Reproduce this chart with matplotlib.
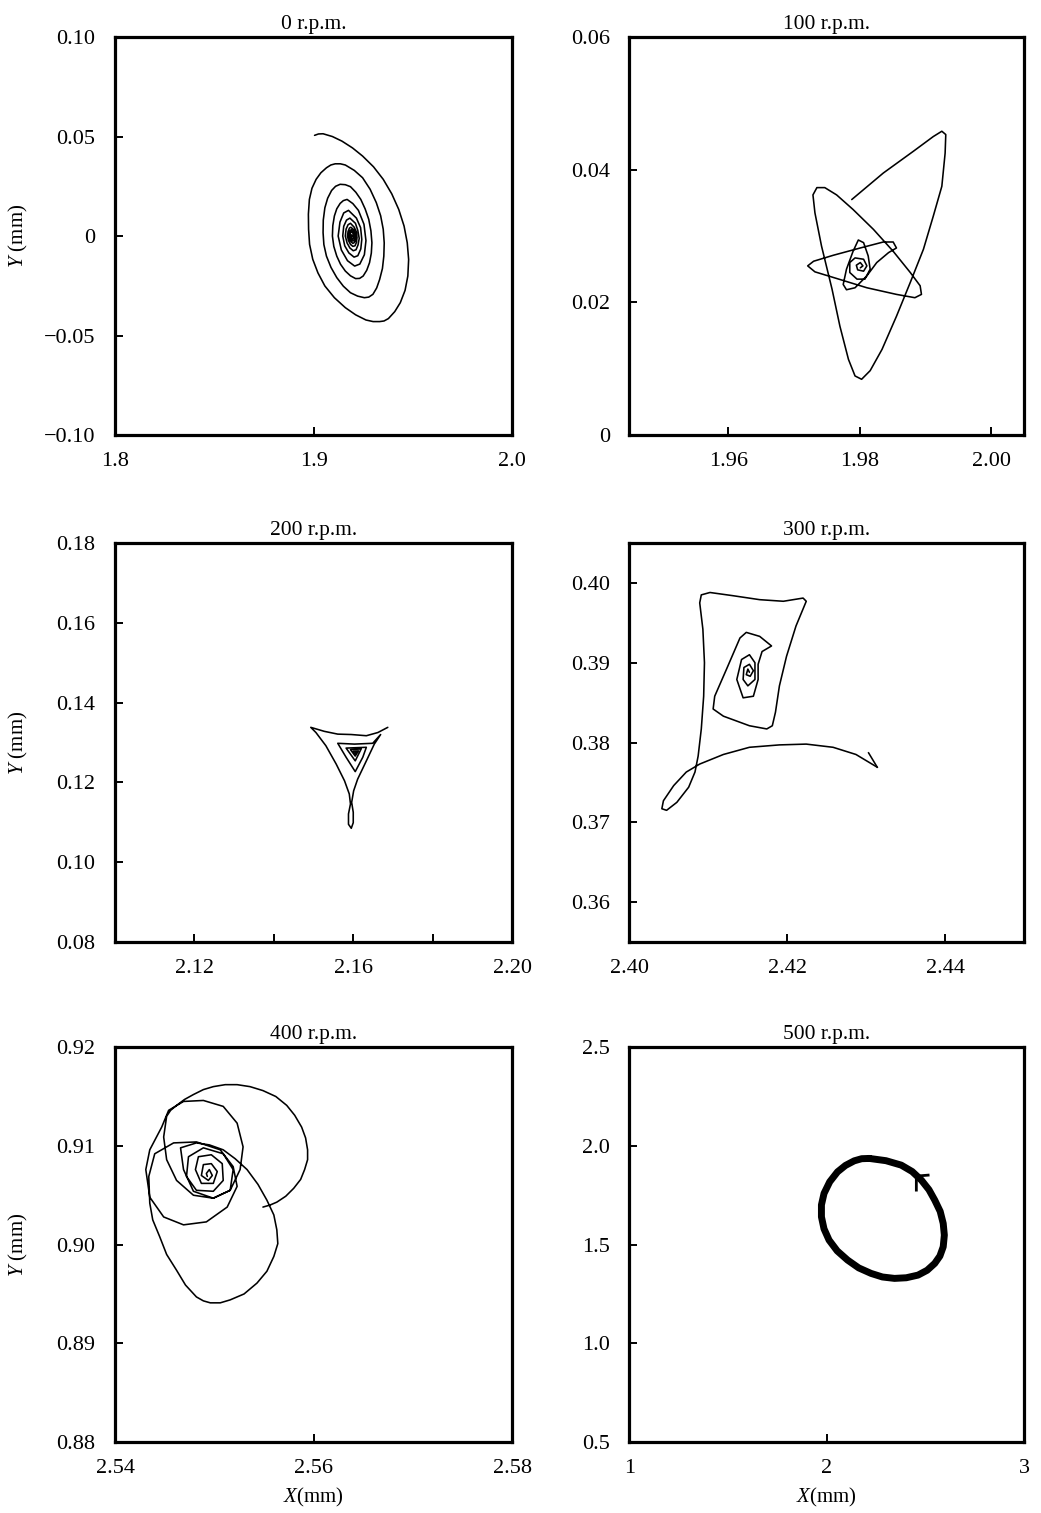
import matplotlib
matplotlib.use("Agg")
import matplotlib.pyplot as plt

plt.rcParams["font.family"] = ["Liberation Serif", "DejaVu Serif"]
plt.rcParams["mathtext.fontset"] = "custom"
plt.rcParams["mathtext.rm"] = "Liberation Serif"
plt.rcParams["mathtext.it"] = "Liberation Serif:italic"

# ---- 0 r.p.m. : decaying elliptical spiral ----
rpm0_x = [1.9005, 1.9025, 1.9048, 1.9095, 1.9143, 1.9196, 1.9247, 1.9302, 1.9351, 1.9394, 1.9429,
          1.9456, 1.9472, 1.9479, 1.9475, 1.9461, 1.9437, 1.9409, 1.9377, 1.9355, 1.9333, 1.9300,
          1.9264, 1.9212, 1.9160, 1.9105, 1.9057, 1.9022, 1.8996, 1.8980, 1.8975, 1.8974, 1.8979,
          1.8992, 1.9013, 1.9037, 1.9065, 1.9087, 1.9109, 1.9135, 1.9160,
          1.9205, 1.9247, 1.9285, 1.9316, 1.9338, 1.9351, 1.9356, 1.9354, 1.9347, 1.9333, 1.9318,
          1.9299, 1.9278, 1.9256, 1.9222, 1.9186, 1.9150, 1.9117, 1.9088, 1.9065, 1.9052, 1.9048,
          1.9049, 1.9057, 1.9071, 1.9091, 1.9111, 1.9134, 1.9160, 1.9186,
          1.9213, 1.9238, 1.9260, 1.9278, 1.9289, 1.9294, 1.9291, 1.9282, 1.9268, 1.9250, 1.9232,
          1.9212, 1.9186, 1.9160, 1.9136, 1.9117, 1.9102, 1.9095, 1.9097, 1.9105, 1.9117, 1.9134,
          1.9150, 1.9169, 1.9198,
          1.9226, 1.9254, 1.9264, 1.9256, 1.9233, 1.9207, 1.9171, 1.9140, 1.9124, 1.9133, 1.9152, 1.9176,
          1.9216, 1.9237, 1.9243, 1.9238, 1.9223, 1.9204, 1.9178, 1.9157, 1.9147, 1.9152, 1.9166, 1.9183,
          1.9211, 1.9223, 1.9230, 1.9224, 1.9214, 1.9200, 1.9183, 1.9169, 1.9160, 1.9164, 1.9174, 1.9186,
          1.9205, 1.9216, 1.9219, 1.9216, 1.9209, 1.9198, 1.9186, 1.9176, 1.9171, 1.9174, 1.9181, 1.9188,
          1.9202, 1.9209, 1.9212, 1.9211, 1.9204, 1.9198, 1.9190, 1.9181, 1.9178, 1.9179, 1.9185, 1.9190,
          1.9200, 1.9205, 1.9207, 1.9205, 1.9202, 1.9197, 1.9192, 1.9186, 1.9183, 1.9185, 1.9188, 1.9192,
          1.9198, 1.9201, 1.9199, 1.9195, 1.9190, 1.9190, 1.9195]
rpm0_y = [0.0506, 0.0513, 0.0514, 0.0500, 0.0477, 0.0443, 0.0402, 0.0348, 0.0285, 0.0212, 0.0134,
          0.0050, -0.0034, -0.0118, -0.0201, -0.0273, -0.0335, -0.0380, -0.0415, -0.0427, -0.0430, -0.0430,
          -0.0422, -0.0396, -0.0360, -0.0310, -0.0251, -0.0185, -0.0117, -0.0042, 0.0034, 0.0110, 0.0184,
          0.0240, 0.0285, 0.0318, 0.0343, 0.0357, 0.0363, 0.0363, 0.0357,
          0.0330, 0.0293, 0.0235, 0.0168, 0.0102, 0.0034, -0.0035, -0.0101, -0.0163, -0.0218, -0.0261,
          -0.0293, -0.0307, -0.0310, -0.0302, -0.0285, -0.0252, -0.0209, -0.0158, -0.0101, -0.0043, 0.0017,
          0.0080, 0.0142, 0.0190, 0.0229, 0.0250, 0.0260, 0.0258, 0.0248,
          0.0220, 0.0184, 0.0136, 0.0084, 0.0026, -0.0034, -0.0086, -0.0134, -0.0172, -0.0201, -0.0213,
          -0.0214, -0.0200, -0.0176, -0.0142, -0.0101, -0.0052, 0.0, 0.0052, 0.0101, 0.0137, 0.0164,
          0.0178, 0.0184, 0.0163,
          0.0129, 0.0059, -0.0023, -0.0094, -0.0141, -0.0151, -0.0124, -0.0070, 0.0, 0.0070, 0.0116, 0.0129,
          0.0090, 0.0042, -0.0017, -0.0065, -0.0099, -0.0106, -0.0085, -0.0049, 0.0, 0.0049, 0.0080, 0.0090,
          0.0064, 0.0028, -0.0012, -0.0045, -0.0069, -0.0074, -0.0060, -0.0035, 0.0, 0.0035, 0.0057, 0.0064,
          0.0044, 0.0020, -0.0008, -0.0032, -0.0049, -0.0052, -0.0042, -0.0023, 0.0, 0.0023, 0.0040, 0.0044,
          0.0032, 0.0015, -0.0005, -0.0023, -0.0034, -0.0037, -0.0030, -0.0017, 0.0, 0.0017, 0.0028, 0.0032,
          0.0022, 0.0010, -0.0003, -0.0017, -0.0023, -0.0025, -0.0022, -0.0012, 0.0, 0.0012, 0.0020, 0.0022,
          0.0015, 0.0, -0.0012, -0.0016, -0.0008, 0.0006, 0.0]

# ---- 100 r.p.m. ----
rpm100_x = [1.9788, 1.9836, 1.9882, 1.9912, 1.9925, 1.9931, 1.9930, 1.9925, 1.9912, 1.9897, 1.9877,
            1.9856, 1.9834, 1.9816, 1.9803, 1.9793, 1.9783, 1.9770, 1.9758, 1.9742, 1.9732, 1.9729,
            1.9735, 1.9747, 1.9765, 1.9790, 1.9821, 1.9851, 1.9877, 1.9892, 1.9894, 1.9884, 1.9856,
            1.9811, 1.9765, 1.9732, 1.9721, 1.9730, 1.9760, 1.9801, 1.9836, 1.9851, 1.9856,
            1.9844, 1.9826, 1.9811, 1.9793, 1.9780, 1.9775, 1.9780, 1.9790, 1.9798, 1.9806, 1.9813,
            1.9816, 1.9808, 1.9796, 1.9785, 1.9785, 1.9793, 1.9806, 1.9811, 1.9806, 1.9797, 1.9795,
            1.9801, 1.9805, 1.9801]
rpm100_y = [0.0355, 0.0395, 0.0428, 0.0450, 0.0458, 0.0453, 0.0425, 0.0375, 0.0330, 0.0280, 0.0230,
            0.0179, 0.0129, 0.0097, 0.0084, 0.0089, 0.0114, 0.0164, 0.0220, 0.0285, 0.0335, 0.0362,
            0.0373, 0.0373, 0.0362, 0.0340, 0.0310, 0.0277, 0.0245, 0.0225, 0.0212, 0.0207, 0.0212,
            0.0222, 0.0236, 0.0246, 0.0255, 0.0262, 0.0271, 0.0282, 0.0291, 0.0291, 0.0282,
            0.0275, 0.0260, 0.0240, 0.0222, 0.0219, 0.0227, 0.0250, 0.0277, 0.0294, 0.0290, 0.0270,
            0.0250, 0.0235, 0.0235, 0.0245, 0.0260, 0.0267, 0.0265, 0.0255, 0.0247, 0.0249, 0.0256,
            0.0260, 0.0255, 0.0252]

# ---- 200 r.p.m. ----
rpm200_x = [2.1687, 2.1662, 2.1633, 2.1595, 2.1561, 2.1527, 2.1493, 2.1506, 2.1531, 2.1557, 2.1578,
            2.1590, 2.1593, 2.1588, 2.1588, 2.1595, 2.1600, 2.1600, 2.1596, 2.1601, 2.1611, 2.1633,
            2.1653, 2.1669, 2.1649, 2.1603, 2.1561, 2.1582, 2.1605, 2.1624, 2.1633, 2.1582, 2.1605,
            2.1620, 2.1593, 2.1605, 2.1613, 2.1600, 2.1605, 2.1607]
rpm200_y = [0.1338, 0.1325, 0.1317, 0.1320, 0.1321, 0.1328, 0.1338, 0.1325, 0.1292, 0.1246, 0.1204,
            0.1171, 0.1146, 0.1121, 0.1095, 0.1085, 0.1099, 0.1125, 0.1150, 0.1179, 0.1208, 0.1254,
            0.1296, 0.1320, 0.1298, 0.1296, 0.1298, 0.1263, 0.1227, 0.1263, 0.1288, 0.1286, 0.1254,
            0.1284, 0.1282, 0.1266, 0.1279, 0.1278, 0.1271, 0.1277]

# ---- 300 r.p.m. ----
rpm300_x = [2.4314, 2.4287, 2.4258, 2.4224, 2.4190, 2.4152, 2.4119, 2.4089, 2.4072, 2.4056, 2.4043,
            2.4041, 2.4047, 2.4060, 2.4075, 2.4083, 2.4087, 2.4091, 2.4094, 2.4095, 2.4093, 2.4089,
            2.4091, 2.4102, 2.4131, 2.4165, 2.4195, 2.4220, 2.4224, 2.4211, 2.4199, 2.4190, 2.4185,
            2.4181, 2.4174, 2.4152, 2.4119, 2.4106, 2.4108, 2.4123, 2.4140, 2.4148, 2.4165, 2.4180,
            2.4168, 2.4163, 2.4163, 2.4157, 2.4144, 2.4136, 2.4142, 2.4152, 2.4159, 2.4159, 2.4150,
            2.4144, 2.4145, 2.4152, 2.4157, 2.4153, 2.4148, 2.4150, 2.4152]
rpm300_y = [0.3769, 0.3785, 0.3794, 0.3798, 0.3797, 0.3794, 0.3785, 0.3773, 0.3763, 0.3746, 0.3727,
            0.3717, 0.3715, 0.3725, 0.3744, 0.3763, 0.3783, 0.3817, 0.3858, 0.3900, 0.3942, 0.3975,
            0.3985, 0.3988, 0.3984, 0.3979, 0.3977, 0.3981, 0.3977, 0.3946, 0.3908, 0.3871, 0.3838,
            0.3821, 0.3817, 0.3821, 0.3833, 0.3842, 0.3858, 0.3892, 0.3931, 0.3938, 0.3933, 0.3921,
            0.3914, 0.3898, 0.3879, 0.3858, 0.3856, 0.3879, 0.3904, 0.3910, 0.3900, 0.3879, 0.3871,
            0.3879, 0.3894, 0.3898, 0.3890, 0.3883, 0.3885, 0.3892, 0.3888]
rpm300_barb_x = [2.4314, 2.4303]
rpm300_barb_y = [0.3769, 0.3787]

# ---- 400 r.p.m. ----
rpm400_x = [2.5549, 2.5556, 2.5563, 2.5572, 2.5580, 2.5587, 2.5591, 2.5594, 2.5594, 2.5592, 2.5588,
            2.5581, 2.5573, 2.5562, 2.5549, 2.5536, 2.5523, 2.5511, 2.5499, 2.5489, 2.5479, 2.5470,
            2.5462, 2.5456, 2.5452,
            2.5449, 2.5452, 2.5462, 2.5479, 2.5499, 2.5516, 2.5526, 2.5529, 2.5523, 2.5509, 2.5489,
            2.5469, 2.5454, 2.5447,
            2.5435, 2.5431, 2.5435, 2.5449, 2.5469, 2.5492, 2.5513, 2.5523, 2.5519, 2.5506, 2.5482,
            2.5459, 2.5440, 2.5434,
            2.5435, 2.5438, 2.5445, 2.5452, 2.5462, 2.5471, 2.5482, 2.5489, 2.5496, 2.5506, 2.5516,
            2.5530, 2.5543, 2.5553, 2.5560, 2.5564, 2.5563, 2.5560, 2.5553, 2.5544, 2.5533, 2.5521,
            2.5509, 2.5495, 2.5482, 2.5466,
            2.5469, 2.5479, 2.5499, 2.5516, 2.5519, 2.5509, 2.5489, 2.5474, 2.5472, 2.5482, 2.5499,
            2.5509, 2.5508, 2.5497, 2.5484, 2.5481, 2.5487, 2.5499, 2.5503, 2.5497, 2.5489, 2.5487,
            2.5494, 2.5498, 2.5495, 2.5492, 2.5493]
rpm400_y = [0.9038, 0.9040, 0.9043, 0.9049, 0.9057, 0.9066, 0.9076, 0.9086, 0.9096, 0.9108, 0.9119,
            0.9131, 0.9141, 0.9150, 0.9156, 0.9160, 0.9162, 0.9162, 0.9160, 0.9157, 0.9152, 0.9147,
            0.9141, 0.9136, 0.9130,
            0.9109, 0.9086, 0.9065, 0.9050, 0.9047, 0.9055, 0.9076, 0.9099, 0.9123, 0.9140, 0.9146,
            0.9145, 0.9136, 0.9119,
            0.9096, 0.9076, 0.9048, 0.9028, 0.9020, 0.9023, 0.9038, 0.9059, 0.9079, 0.9096, 0.9104,
            0.9103, 0.9092, 0.9069,
            0.9042, 0.9025, 0.9008, 0.8990, 0.8974, 0.8959, 0.8947, 0.8943, 0.8941, 0.8941, 0.8944,
            0.8950, 0.8961, 0.8973, 0.8988, 0.9001, 0.9015, 0.9030, 0.9045, 0.9061, 0.9076, 0.9087,
            0.9096, 0.9101, 0.9103, 0.9098,
            0.9076, 0.9054, 0.9047, 0.9055, 0.9076, 0.9092, 0.9098, 0.9089, 0.9069, 0.9055, 0.9054,
            0.9065, 0.9082, 0.9091, 0.9089, 0.9076, 0.9062, 0.9062, 0.9074, 0.9082, 0.9081, 0.9070,
            0.9065, 0.9070, 0.9076, 0.9072, 0.9069]

# ---- 500 r.p.m. : thick closed orbit ----
rpm500_x = [2.2158, 2.3000, 2.3775, 2.4330, 2.4796, 2.5180, 2.5474, 2.5750, 2.5903, 2.5960, 2.5903,
            2.5735, 2.5474, 2.5090, 2.4627, 2.4030, 2.3434, 2.2820, 2.2245, 2.1620, 2.1056, 2.0530,
            2.0117, 1.9860, 1.9730, 1.9730, 1.9862, 2.0150, 2.0546, 2.0950, 2.1393, 2.1770, 2.2158]
rpm500_y = [1.9364, 1.9250, 1.9025, 1.8700, 1.8265, 1.7780, 1.7252, 1.6680, 1.6073, 1.5480, 1.4888,
            1.4420, 1.4048, 1.3700, 1.3455, 1.3320, 1.3288, 1.3360, 1.3541, 1.3820, 1.4215, 1.4680,
            1.5227, 1.5800, 1.6407, 1.7010, 1.7592, 1.8180, 1.8685, 1.9010, 1.9242, 1.9350, 1.9364]
rpm500_arrow_x = [2.5138, 2.4541, 2.4541]
rpm500_arrow_y = [1.8518, 1.8468, 1.7759]

panels = [
    dict(title="0 r.p.m.", x=rpm0_x, y=rpm0_y, xlim=(1.8, 2.0), ylim=(-0.10, 0.10),
         xticks=[1.8, 1.9, 2.0], xlabels=["1.8", "1.9", "2.0"],
         yticks=[-0.10, -0.05, 0, 0.05, 0.10], ylabels=["\u22120.10", "\u22120.05", "0", "0.05", "0.10"]),
    dict(title="100 r.p.m.", x=rpm100_x, y=rpm100_y, xlim=(1.945, 2.005), ylim=(0, 0.06),
         xticks=[1.96, 1.98, 2.00], xlabels=["1.96", "1.98", "2.00"],
         yticks=[0, 0.02, 0.04, 0.06], ylabels=["0", "0.02", "0.04", "0.06"]),
    dict(title="200 r.p.m.", x=rpm200_x, y=rpm200_y, xlim=(2.10, 2.20), ylim=(0.08, 0.18),
         xticks=[2.12, 2.14, 2.16, 2.18, 2.20], xlabels=["2.12", "", "2.16", "", "2.20"],
         yticks=[0.08, 0.10, 0.12, 0.14, 0.16, 0.18],
         ylabels=["0.08", "0.10", "0.12", "0.14", "0.16", "0.18"]),
    dict(title="300 r.p.m.", x=rpm300_x, y=rpm300_y, xlim=(2.40, 2.45), ylim=(0.355, 0.405),
         xticks=[2.40, 2.42, 2.44], xlabels=["2.40", "2.42", "2.44"],
         yticks=[0.36, 0.37, 0.38, 0.39, 0.40], ylabels=["0.36", "0.37", "0.38", "0.39", "0.40"]),
    dict(title="400 r.p.m.", x=rpm400_x, y=rpm400_y, xlim=(2.54, 2.58), ylim=(0.88, 0.92),
         xticks=[2.54, 2.56, 2.58], xlabels=["2.54", "2.56", "2.58"],
         yticks=[0.88, 0.89, 0.90, 0.91, 0.92], ylabels=["0.88", "0.89", "0.90", "0.91", "0.92"]),
    dict(title="500 r.p.m.", x=rpm500_x, y=rpm500_y, xlim=(1, 3), ylim=(0.5, 2.5),
         xticks=[1, 2, 3], xlabels=["1", "2", "3"],
         yticks=[0.5, 1.0, 1.5, 2.0, 2.5], ylabels=["0.5", "1.0", "1.5", "2.0", "2.5"]),
]

# axes boxes in figure fractions (left, bottom, width, height)
col_left = [0.1105, 0.6047]
col_width = [0.3814, 0.379]
row_bottom = [0.7125, 0.3774, 0.0469]
row_height = [0.263, 0.2637, 0.261]

fig = plt.figure(figsize=(10.41, 15.13), dpi=100)

axes = []
for i, p in enumerate(panels):
    r, c = divmod(i, 2)
    ax = fig.add_axes([col_left[c], row_bottom[r], col_width[c], row_height[r]])
    lw = 5.0 if i == 5 else 1.15
    ax.plot(p["x"], p["y"], color="black", lw=lw, solid_joinstyle="round",
            solid_capstyle="round")
    ax.set_xlim(*p["xlim"])
    ax.set_ylim(*p["ylim"])
    ax.set_xticks(p["xticks"])
    ax.set_xticklabels(p["xlabels"])
    ax.set_yticks(p["yticks"])
    ax.set_yticklabels(p["ylabels"])
    ax.tick_params(direction="in", length=6, width=1.4, labelsize=16,
                   top=False, right=False)
    ax.tick_params(axis="x", pad=12)
    ax.tick_params(axis="y", pad=14)
    for s in ax.spines.values():
        s.set_linewidth(2.3)
    ax.set_title(p["title"], fontsize=15.5, pad=6)
    if c == 0:
        ax.set_ylabel(r"$\it{Y}$ (mm)", fontsize=15)
        ax.yaxis.set_label_coords(-0.215, 0.5)
    if r == 2:
        ax.set_xlabel(r"$\it{X}$(mm)", fontsize=15)
        ax.xaxis.set_label_coords(0.5, -0.11)
    axes.append(ax)

axes[3].plot(rpm300_barb_x, rpm300_barb_y, color="black", lw=1.15)
axes[5].plot(rpm500_arrow_x, rpm500_arrow_y, color="black", lw=2.0)

fig.savefig("out.png", dpi=100)
